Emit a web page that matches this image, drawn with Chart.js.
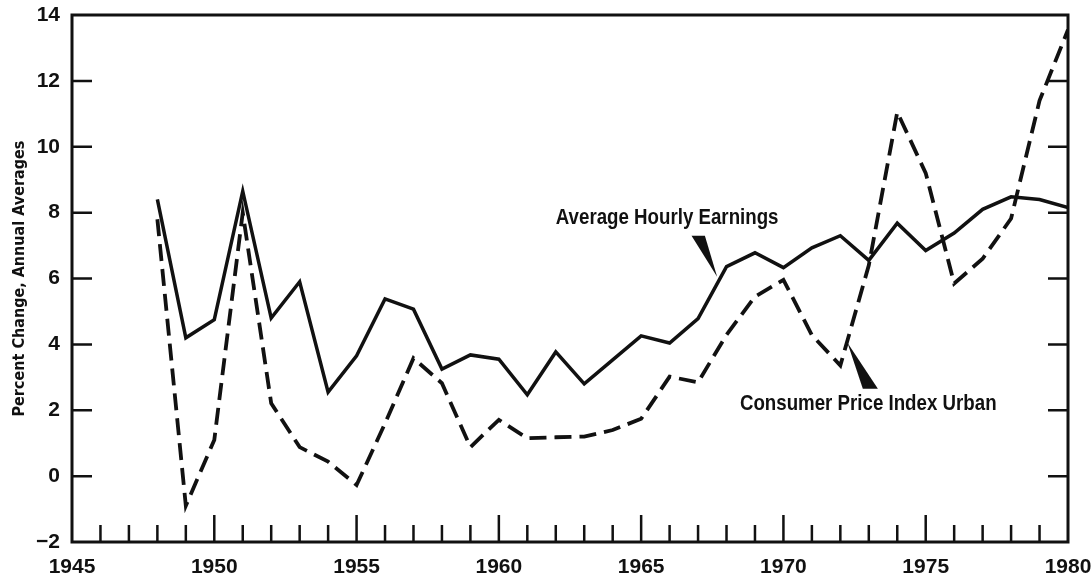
<!DOCTYPE html>
<html>
<head>
<meta charset="utf-8">
<script src="https://cdn.jsdelivr.net/npm/chart.js@4/dist/chart.umd.min.js"></script>
<style>
  html, body { margin: 0; padding: 0; background: #fff; }
  #wrap { width: 1091px; height: 575px; position: relative; }
</style>
</head>
<body>
<div id="wrap"><canvas id="c" width="1091" height="575"></canvas></div>
<script>
const years = [1948,1949,1950,1951,1952,1953,1954,1955,1956,1957,1958,1959,1960,1961,1962,1963,1964,1965,1966,1967,1968,1969,1970,1971,1972,1973,1974,1975,1976,1977,1978,1979,1980];
const hourlyEarnings = [8.4,4.2,4.75,8.65,4.8,5.9,2.55,3.65,5.38,5.07,3.25,3.68,3.55,2.47,3.77,2.8,3.53,4.26,4.04,4.78,6.36,6.78,6.33,6.93,7.3,6.55,7.68,6.85,7.38,8.1,8.48,8.4,8.15];
const cpiUrban = [7.8,-0.9,1.1,8.0,2.21,0.88,0.44,-0.27,1.6,3.58,2.82,0.88,1.71,1.15,1.18,1.2,1.4,1.74,3.02,2.85,4.29,5.45,5.96,4.28,3.36,6.4,11.05,9.2,5.85,6.6,7.82,11.4,13.55];
const seriesNames = ['Average Hourly Earnings', 'Consumer Price Index Urban'];
const yTicks = [-2,0,2,4,6,8,10,12,14];
const xTickYears = [1945,1950,1955,1960,1965,1970,1975,1980];
const yTitle = 'Percent Change, Annual Averages';

const INK = '#111';
const TICKFONT = "'Liberation Sans', Arial, sans-serif";
const NARROW = "'Liberation Sans Narrow', 'DejaVu Sans Condensed', 'Liberation Sans', sans-serif";

// callouts placed in data coordinates
const callouts = [
  { text: seriesNames[0], tx: 1962.0, ty: 7.85, wedge: [[1966.77, 7.3], [1967.24, 7.3], [1967.67, 6.05]] },
  { text: seriesNames[1], tx: 1968.47, ty: 2.2, wedge: [[1972.79, 2.65], [1973.32, 2.65], [1972.25, 4.05]] }
];

const framePlugin = {
  id: 'frame',
  afterDraw(chart) {
    const { ctx, chartArea: a, scales: { x, y } } = chart;
    ctx.save();
    ctx.strokeStyle = INK;
    ctx.fillStyle = INK;
    ctx.lineWidth = 3;
    ctx.strokeRect(a.left, a.top, a.right - a.left, a.bottom - a.top);
    ctx.lineWidth = 2.5;
    ctx.beginPath();
    for (let yr = 1946; yr < 1980; yr++) {
      const px = x.getPixelForValue(yr);
      const len = xTickYears.includes(yr) ? 27 : 17;
      ctx.moveTo(px, a.bottom);
      ctx.lineTo(px, a.bottom - len);
    }
    for (const v of yTicks) {
      if (v <= -2 || v >= 14) continue;
      const py = y.getPixelForValue(v);
      ctx.moveTo(a.left, py); ctx.lineTo(a.left + 20, py);
      ctx.moveTo(a.right, py); ctx.lineTo(a.right - 20, py);
    }
    ctx.stroke();
    for (const c of callouts) {
      ctx.save();
      ctx.font = 'bold 22px ' + TICKFONT;
      ctx.textBaseline = 'middle';
      ctx.textAlign = 'left';
      const px = x.getPixelForValue(c.tx), py = y.getPixelForValue(c.ty);
      ctx.translate(px, py);
      ctx.scale(0.85, 1);
      ctx.fillText(c.text, 0, 0);
      ctx.restore();
      ctx.beginPath();
      c.wedge.forEach((p, i) => {
        const wx = x.getPixelForValue(p[0]), wy = y.getPixelForValue(p[1]);
        if (i === 0) ctx.moveTo(wx, wy); else ctx.lineTo(wx, wy);
      });
      ctx.closePath();
      ctx.fill();
    }
    ctx.restore();
  }
};

new Chart(document.getElementById('c'), {
  type: 'line',
  data: {
    datasets: [
      {
        label: seriesNames[0],
        data: years.map((yr, i) => ({ x: yr, y: hourlyEarnings[i] })),
        borderColor: INK, borderWidth: 3.5, pointRadius: 0, tension: 0,
        borderJoinStyle: 'miter', fill: false
      },
      {
        label: seriesNames[1],
        data: years.map((yr, i) => ({ x: yr, y: cpiUrban[i] })),
        borderColor: INK, borderWidth: 3.8, pointRadius: 0, tension: 0,
        borderDash: [17, 8], borderJoinStyle: 'miter', fill: false
      }
    ]
  },
  options: {
    responsive: false,
    animation: false,
    events: [],
    layout: { padding: { top: 15, right: 23, bottom: 0, left: 0 } },
    plugins: { legend: { display: false }, tooltip: { enabled: false } },
    scales: {
      x: {
        type: 'linear', min: 1945, max: 1980,
        afterFit(s) { s.height = 33; s.paddingLeft = 0; s.paddingRight = 0; },
        afterBuildTicks(s) { s.ticks = xTickYears.map(v => ({ value: v })); },
        grid: { display: false, drawTicks: false },
        border: { display: false },
        ticks: {
          color: INK, padding: 13, maxRotation: 0, autoSkip: false,
          font: { family: TICKFONT, size: 21, weight: 'bold' },
          callback: v => String(v)
        }
      },
      y: {
        type: 'linear', min: -2, max: 14,
        afterFit(s) { s.width = 72; s.paddingTop = 0; s.paddingBottom = 0; },
        afterBuildTicks(s) { s.ticks = yTicks.map(v => ({ value: v })); },
        grid: { display: false, drawTicks: false },
        border: { display: false },
        title: {
          display: true, text: yTitle, color: INK,
          font: { family: NARROW, size: 16, weight: 'bold' },
          padding: { top: 10, bottom: 0 }
        },
        ticks: {
          color: INK, padding: 12,
          font: { family: TICKFONT, size: 21, weight: 'bold' },
          callback: v => (v < 0 ? '\u2212' + Math.abs(v) : String(v))
        }
      }
    }
  },
  plugins: [framePlugin]
});
</script>
</body>
</html>
